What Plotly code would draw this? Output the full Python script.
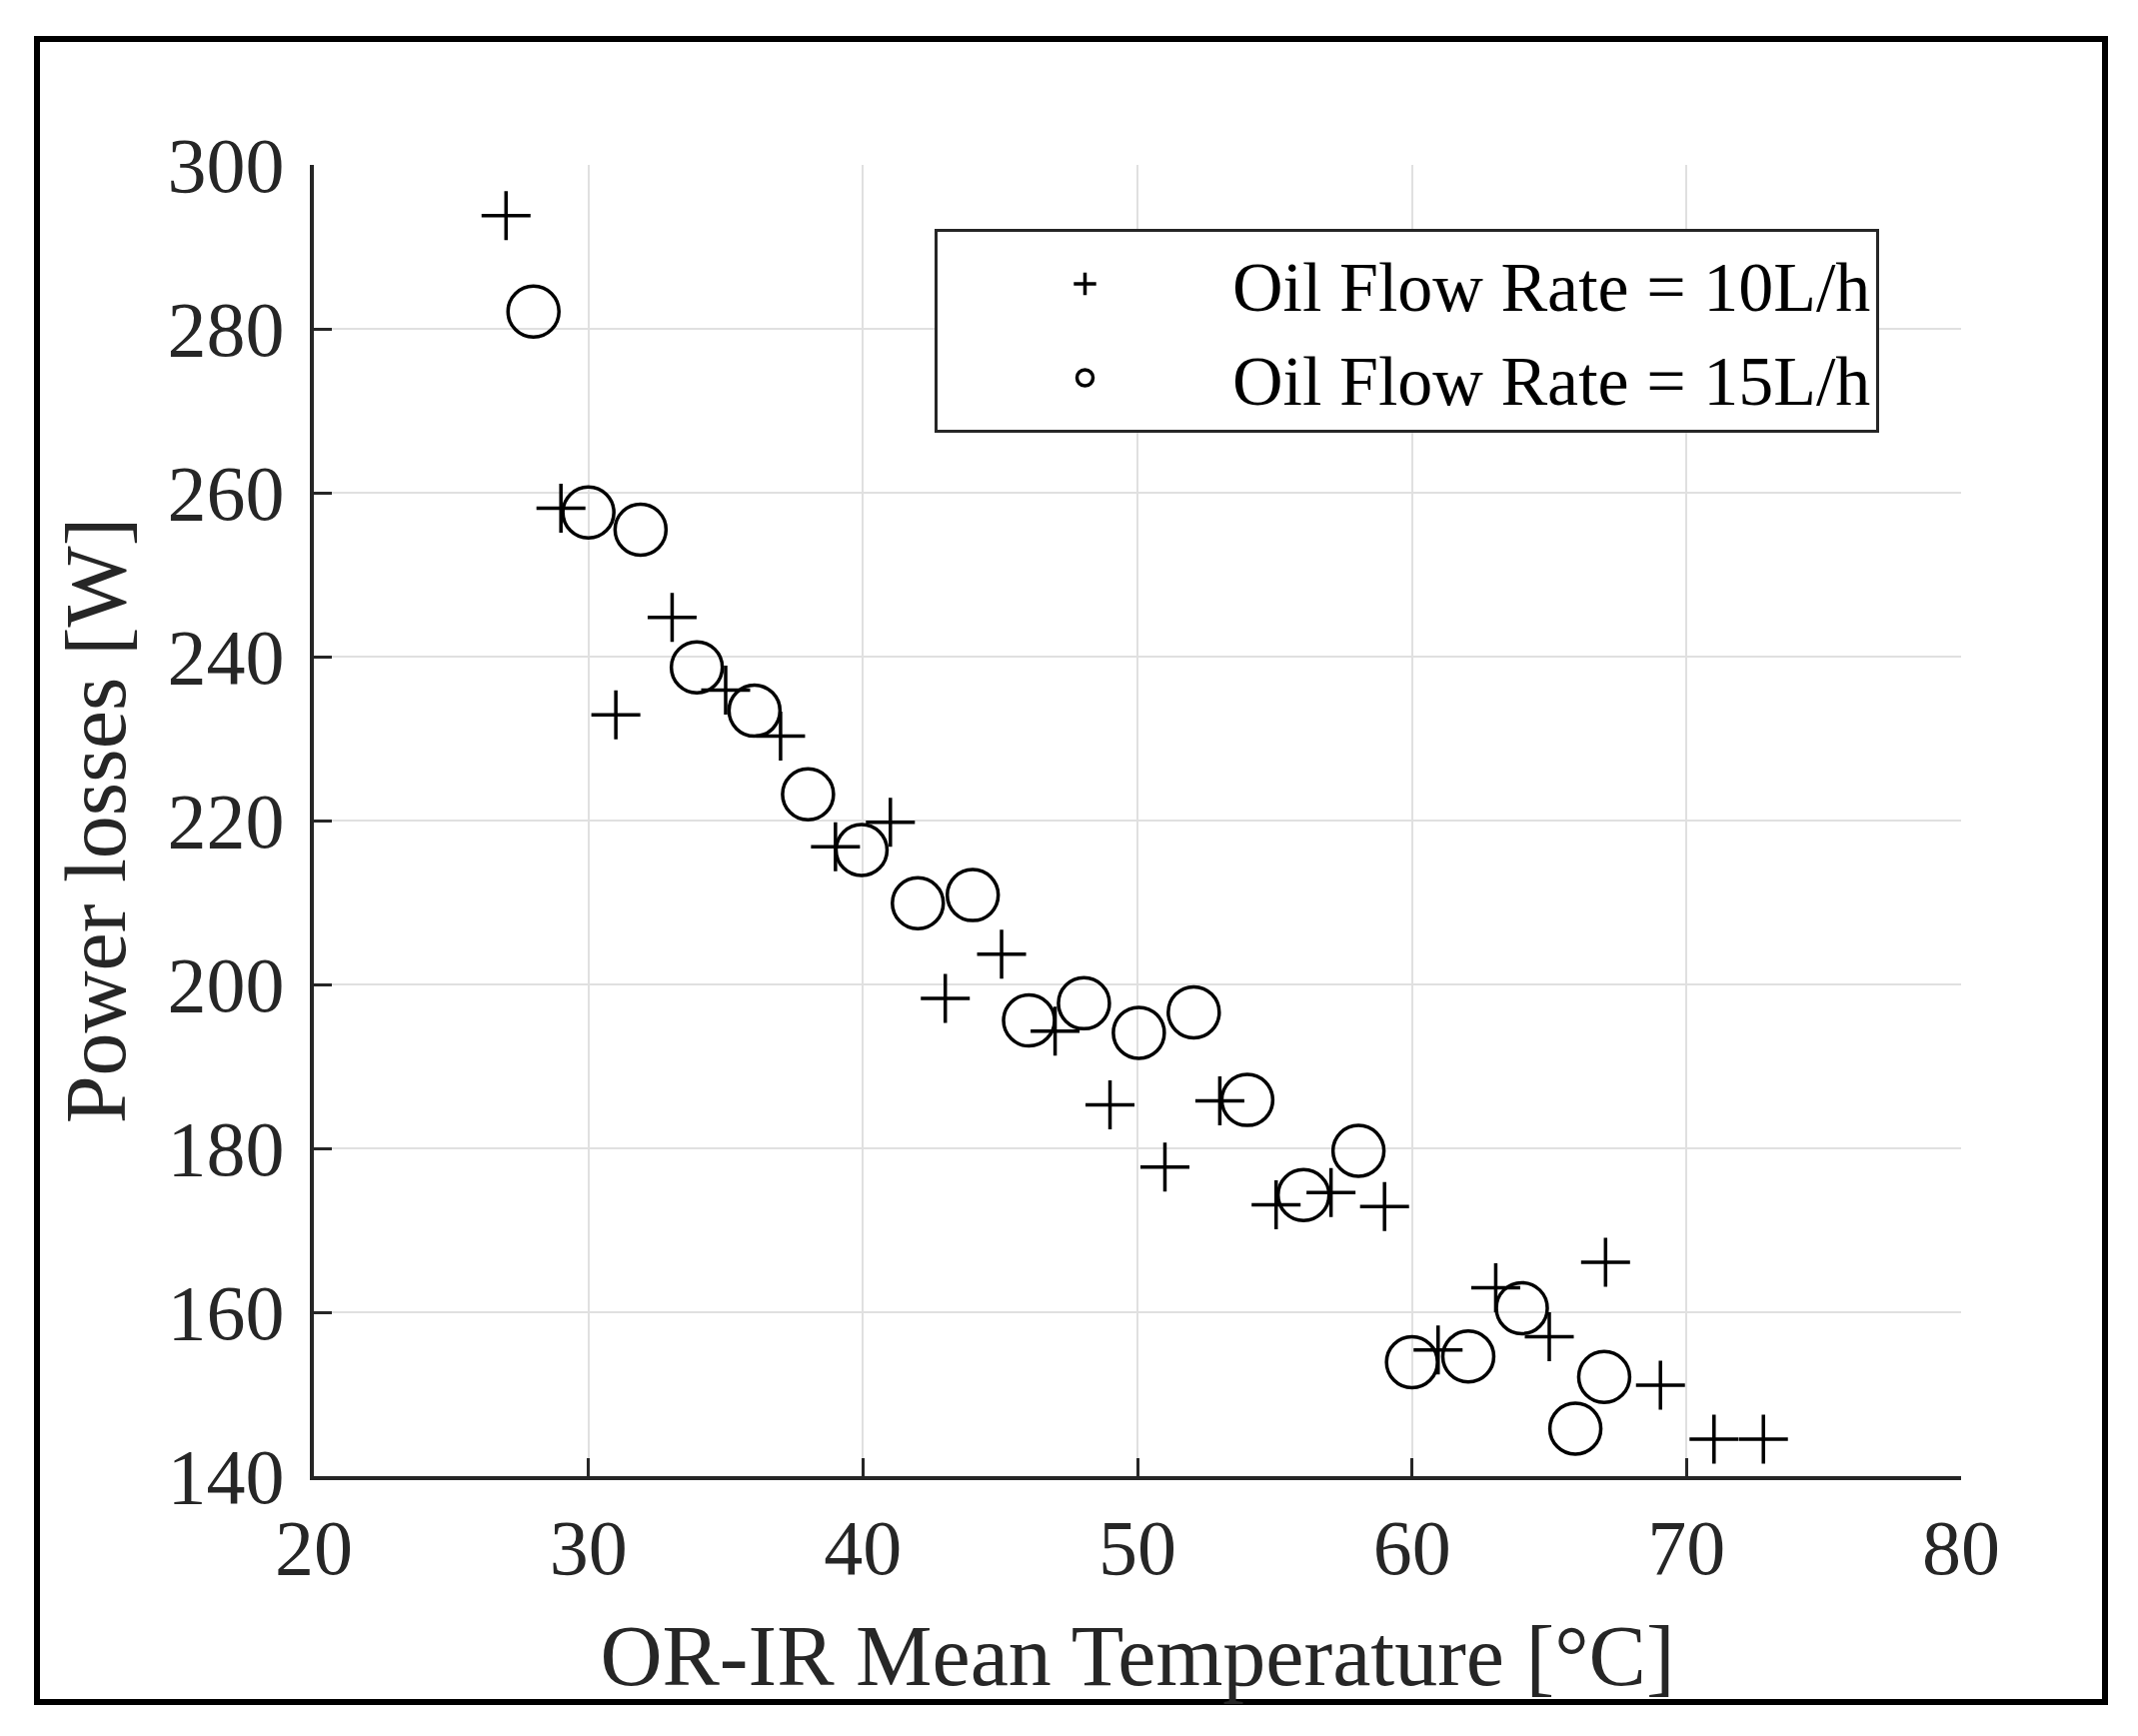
import plotly.graph_objects as go

# Oil flow rate = 10 L/h  (plus markers)
plus_x = [27.0, 29.0, 31.0, 33.05, 35.0, 37.0, 39.0, 41.0, 43.0, 45.05, 47.0, 49.0,
          51.0, 53.0, 55.05, 57.05, 59.0, 60.95, 63.05, 65.0, 67.05, 69.05, 71.0, 72.8]
plus_y = [293.8, 258.1, 232.9, 244.8, 235.9, 230.3, 216.8, 219.8, 198.3, 203.7, 194.3, 185.3,
          177.7, 185.8, 173.1, 174.6, 172.9, 155.4, 163.0, 157.0, 166.1, 151.1, 144.5, 144.5]

# Oil flow rate = 15 L/h  (circle markers)
circ_x = [28.0, 30.0, 31.9, 33.95, 36.05, 38.0, 39.95, 42.0, 44.0, 46.05, 48.05,
          50.05, 52.05, 54.0, 56.05, 58.05, 60.0, 62.05, 64.0, 65.95, 67.0]
circ_y = [282.1, 257.6, 255.5, 238.7, 233.4, 223.2, 216.4, 209.9, 210.9, 195.6, 197.7,
          194.1, 196.6, 185.9, 174.3, 179.7, 153.9, 154.6, 160.5, 145.8, 152.1]

x_ticks = [20, 30, 40, 50, 60, 70, 80]
y_ticks = [140, 160, 180, 200, 220, 240, 260, 280, 300]

FONT = "Liberation Serif"
INK = "#262626"

fig = go.Figure()
fig.add_trace(go.Scatter(
    x=plus_x, y=plus_y, mode="markers", name="Oil Flow Rate = 10L/h",
    marker=dict(symbol="cross-thin-open", size=35, color="black",
                line=dict(color="black", width=3.5)),
))
fig.add_trace(go.Scatter(
    x=circ_x, y=circ_y, mode="markers", name="Oil Flow Rate = 15L/h",
    marker=dict(symbol="circle-open", size=51, color="black",
                line=dict(color="black", width=3.5)),
))

# page body has an 8px default margin, so the figure is 8px smaller
W, H = 2131, 1729
L, R, T, B = 306, 177, 157, 260
pw, ph = W - L - R, H - T - B

def px2paper_x(px):
    return (px - L) / pw

def px2paper_y(py):
    return (H - B - py) / ph

fig.update_layout(
    width=W, height=H,
    margin=dict(l=L, r=R, t=T, b=B),
    paper_bgcolor="white", plot_bgcolor="white",
    font=dict(family=FONT, color=INK),
    showlegend=True,
    legend=dict(
        x=px2paper_x(927), y=px2paper_y(221), xanchor="left", yanchor="top",
        bgcolor="white", bordercolor=INK, borderwidth=3,
        font=dict(family=FONT, size=70, color="black"),
        itemwidth=285, tracegroupgap=0,
    ),
    xaxis=dict(
        range=[20, 80], tickvals=x_ticks, ticktext=[str(v) for v in x_ticks],
        showgrid=True, gridcolor="#e0e0e0", gridwidth=2,
        showline=True, linecolor=INK, linewidth=4, mirror=False,
        ticks="inside", ticklen=18, tickwidth=3, tickcolor=INK,
        tickfont=dict(family=FONT, size=78, color=INK),
        ticklabelstandoff=0,
        zeroline=False,
        title=dict(text="OR-IR Mean Temperature [°C]", standoff=36,
                   font=dict(family=FONT, size=86, color=INK)),
    ),
    yaxis=dict(
        range=[140, 300], tickvals=y_ticks, ticktext=[str(v) for v in y_ticks],
        showgrid=True, gridcolor="#e0e0e0", gridwidth=2,
        showline=True, linecolor=INK, linewidth=4, mirror=False,
        ticks="inside", ticklen=18, tickwidth=3, tickcolor=INK,
        tickfont=dict(family=FONT, size=78, color=INK),
        ticklabelstandoff=10,
        zeroline=False,
        title=dict(text="Power losses [W]", standoff=14,
                   font=dict(family=FONT, size=86, color=INK)),
    ),
    shapes=[dict(
        type="rect", xref="paper", yref="paper",
        x0=px2paper_x(29), x1=px2paper_x(2098),
        y0=px2paper_y(1695), y1=px2paper_y(31),
        line=dict(color="black", width=6), fillcolor="rgba(0,0,0,0)",
        layer="above",
    )],
)

fig.write_html("out.html")
